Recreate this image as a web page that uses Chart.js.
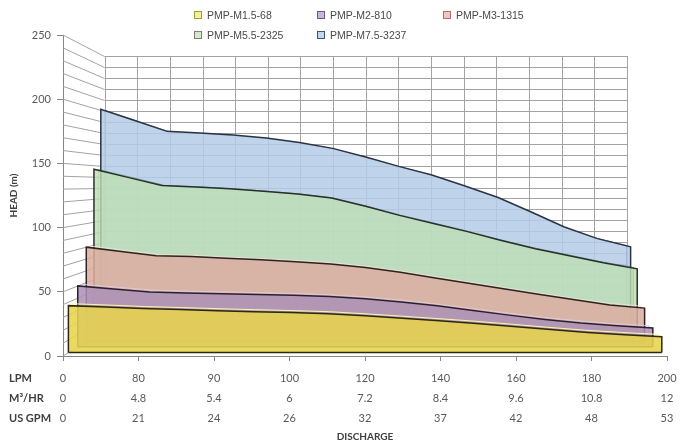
<!DOCTYPE html>
<html>
<head>
<meta charset="utf-8">
<script src="https://cdn.jsdelivr.net/npm/chart.js@4.4.1/dist/chart.umd.min.js"></script>
<style>
  html, body { margin: 0; padding: 0; background: #fff; }
  #wrap { position: relative; width: 681px; height: 446px; }
  #legend {
    position: absolute; left: 194px; top: 8px;
    display: grid; grid-template-columns: 123px 126px 110px; row-gap: 6px;
    font: 10.5px "Liberation Sans Narrow", "Liberation Sans", Arial, sans-serif; color: #4a4a4a;
  }
  .key { display: flex; align-items: center; height: 14px; white-space: nowrap; }
  .key i { display: inline-block; width: 6px; height: 6px; border: 1px solid; margin-right: 5px; }
</style>
</head>
<body>
<div id="wrap">
  <canvas id="chart" width="681" height="446"></canvas>
  <div id="legend"></div>
</div>
<script>
// pump curves — head vs discharge, drawn as an Excel-style 3D area chart

// ── Data ──────────────────────────────────────────────────────
const LPM    = ["0","80","90","100","120","140","160","180","200"];
const M3_HR  = ["0","4.8","5.4","6","7.2","8.4","9.6","10.8","12"];
const US_GPM = ["0","21","24","26","32","37","42","48","53"];
const ROW_TITLES = ["LPM","M³/HR","US GPM"];

const SERIES_NAMES = ["PMP-M1.5-68","PMP-M2-810","PMP-M3-1315","PMP-M5.5-2325","PMP-M7.5-3237"];

// head (m), 17 points along the discharge axis
const HEAD_M15_68   = [37.3,36.2,35.0,34.2,33.3,32.5,31.8,30.9,29.2,27.3,25.3,23.2,20.8,18.3,16.0,14.2,12.6];
const HEAD_M2_810   = [50.0,47.5,45.0,44.2,43.6,43.0,42.3,41.2,39.4,36.8,33.6,29.8,26.0,22.5,19.5,17.2,15.4];
const HEAD_M3_1315  = [80.0,76.4,72.8,72.0,70.5,69.2,67.6,65.8,62.8,58.6,53.9,49.1,44.4,39.8,35.3,31.0,28.3];
const HEAD_M55_2325 = [146.3,139.2,132.1,130.9,129.2,127.0,124.6,121.1,113.9,106.0,98.9,91.8,84.0,76.8,70.7,64.5,59.3];
const HEAD_M75_3237 = [200.5,190.5,180.6,179.2,177.4,174.7,170.5,165.3,157.6,149.1,141.4,131.5,121.2,108.1,94.6,84.2,76.9];

const HEADS = [HEAD_M15_68, HEAD_M2_810, HEAD_M3_1315, HEAD_M55_2325, HEAD_M75_3237];
const HEAD_MAX = 250, HEAD_STEP = 50, WALL_STEP = 10;

// ── Styles ────────────────────────────────────────────────────
const FILLS     = ["rgba(231,212,78,0.88)","rgba(174,145,183,0.86)","rgba(219,173,161,0.86)","rgba(190,222,179,0.8)","rgba(180,203,232,0.85)"];
const EDGES     = ["#2b2a10","#2a2030","#2e2220","#26302a","#2c3444"];
const BACK_EDGE = ["rgba(255,252,170,0.95)","rgba(225,205,235,0.8)","rgba(250,222,214,0.8)","rgba(70,90,70,0.45)","rgba(40,55,85,0.6)"];
const KEY_FILL  = ["#f2f0a0","#c8b6d8","#f2c4c4","#d6e8cc","#c4d6ee"];
const KEY_EDGE  = ["#a0a030","#6a5a7c","#b86a6a","#7c7c7c","#44546e"];
const DEPTH     = [0.13, 0.355, 0.56, 0.745, 0.91];     // 0 = front plane, 1 = back wall
const THICK     = 0.1;                                  // depth of each area slab
const BACK      = { left: 0.0688, right: 0.0662, bottom: 0.081, top: 0.0654 };
const FONT      = "Lato, 'Liberation Sans', sans-serif";
const TICK_LEN = 5, TICK_PAD = 7, LINE_H = 20;

const N = HEADS[0].length;

// hidden axes that map a series onto its own depth plane
function planeScales(t, key) {
  const a = t * BACK.left, b = 1 - t * BACK.right;
  const c = t * BACK.bottom, d = 1 - t * BACK.top;
  const xr = (N - 1) / (b - a), yr = HEAD_MAX / (d - c);
  return {
    ["x" + key]: { type: "linear", axis: "x", display: false, min: -a * xr, max: -a * xr + xr },
    ["y" + key]: { type: "linear", axis: "y", display: false, min: -c * yr, max: -c * yr + yr },
  };
}

const toPoints = h => [{ x: 0, y: 0 }, ...h.map((v, i) => ({ x: i, y: v })), { x: N - 1, y: 0 }];

// ── Plugins ───────────────────────────────────────────────────
const walls = {
  id: "walls",
  beforeDatasetsDraw(chart) {
    const { ctx } = chart, s = chart.scales;
    const xb = s.xb, yb = s.yb, xf = s.x, yf = s.y;
    ctx.save();
    ctx.lineWidth = 1;
    ctx.strokeStyle = "#a3a3a3";
    ctx.beginPath();
    for (let i = 0; i < N; i++) {
      const X = Math.round(xb.getPixelForValue(i)) + 0.5;
      ctx.moveTo(X, yb.getPixelForValue(0));
      ctx.lineTo(X, yb.getPixelForValue(HEAD_MAX));
    }
    for (let v = 0; v <= HEAD_MAX; v += WALL_STEP) {
      const Y = Math.round(yb.getPixelForValue(v)) + 0.5;
      ctx.moveTo(xb.getPixelForValue(0), Y);
      ctx.lineTo(xb.getPixelForValue(N - 1), Y);
      // side wall
      ctx.moveTo(xf.getPixelForValue(0), yf.getPixelForValue(v));
      ctx.lineTo(xb.getPixelForValue(0), Y);
    }
    ctx.stroke();
    ctx.restore();
  },
  afterDatasetDraw(chart, args) {
    // close each area along its base
    const pts = args.meta.data;
    const ds = chart.data.datasets[args.index];
    if (!pts.length) return;
    const { ctx } = chart;
    ctx.save();
    ctx.strokeStyle = ds.borderColor;
    ctx.lineWidth = ds.borderWidth;
    ctx.beginPath();
    ctx.moveTo(pts[0].x, pts[0].y);
    ctx.lineTo(pts[pts.length - 1].x, pts[pts.length - 1].y);
    ctx.stroke();
    ctx.restore();
  },
  afterDraw(chart) {
    // row titles of the discharge table
    const { ctx } = chart, xs = chart.scales.x;
    ctx.save();
    ctx.font = "bold 11px " + FONT;
    ctx.fillStyle = "#404040";
    ctx.textAlign = "left";
    ctx.textBaseline = "middle";
    ROW_TITLES.forEach((t, r) => {
      ctx.fillText(t, 9, xs.top + TICK_LEN + TICK_PAD + LINE_H * (r + 0.5));
    });
    ctx.restore();
  }
};

// ── Build chart ───────────────────────────────────────────────
const scales = {
  x: {
    type: "linear", min: 0, max: N - 1,
    afterFit(s) { s.height = 90; s.paddingLeft = 0; s.paddingRight = 0; },
    border: { display: true, color: "#868686" },
    grid: { drawOnChartArea: false, tickLength: TICK_LEN, color: "#868686" },
    ticks: {
      stepSize: 2, padding: TICK_PAD, maxRotation: 0, autoSkip: false,
      color: "#595959", font: { family: FONT, size: 11, lineHeight: LINE_H / 11 },
      callback: v => { const i = v / 2; return [LPM[i], M3_HR[i], US_GPM[i]]; }
    },
    title: { display: true, text: "DISCHARGE", color: "#404040",
             font: { family: FONT, size: 10, weight: "bold" }, padding: { top: 0, bottom: 3 } }
  },
  y: {
    type: "linear", min: 0, max: HEAD_MAX,
    afterFit(s) { s.width = 63; },
    border: { display: true, color: "#868686" },
    grid: { drawOnChartArea: false, tickLength: 6, color: "#868686" },
    ticks: { stepSize: HEAD_STEP, padding: 6, color: "#595959", font: { family: FONT, size: 11 } },
    title: { display: true, text: "HEAD (m)", color: "#404040",
             font: { family: FONT, size: 10, weight: "bold" }, padding: { top: 8, bottom: 0 } }
  },
  ...planeScales(1, "b")
};
DEPTH.forEach((t, k) => {
  Object.assign(scales, planeScales(t, k));
  Object.assign(scales, planeScales(t + THICK, "r" + k));
});

// front faces (order 0,2,4..) sit on top of their own back faces (1,3,5..)
const fronts = HEADS.map((h, k) => ({
  label: SERIES_NAMES[k],
  data: toPoints(h),
  xAxisID: "x" + k, yAxisID: "y" + k,
  order: 2 * k,
  fill: "origin",
  backgroundColor: FILLS[k],
  borderColor: EDGES[k],
  borderWidth: 1.5,
  pointRadius: 0,
  tension: 0
}));
const backs = HEADS.map((h, k) => ({
  label: SERIES_NAMES[k] + " (back)",
  data: toPoints(h),
  xAxisID: "xr" + k, yAxisID: "yr" + k,
  order: 2 * k + 1,
  fill: false,
  borderColor: BACK_EDGE[k],
  borderWidth: 1,
  pointRadius: 0,
  tension: 0
}));

new Chart(document.getElementById("chart"), {
  type: "line",
  data: { datasets: [...fronts, ...backs] },
  options: {
    responsive: false, animation: false,
    layout: { padding: { top: 35, right: 14, left: 0, bottom: 0 } },
    plugins: { legend: { display: false }, tooltip: { enabled: false } },
    scales
  },
  plugins: [walls]
});

// ── Legend ────────────────────────────────────────────────────
document.getElementById("legend").innerHTML = SERIES_NAMES.map((n, k) =>
  `<div class="key"><i style="background:${KEY_FILL[k]};border-color:${KEY_EDGE[k]}"></i>${n}</div>`
).join("");
</script>
</body>
</html>
